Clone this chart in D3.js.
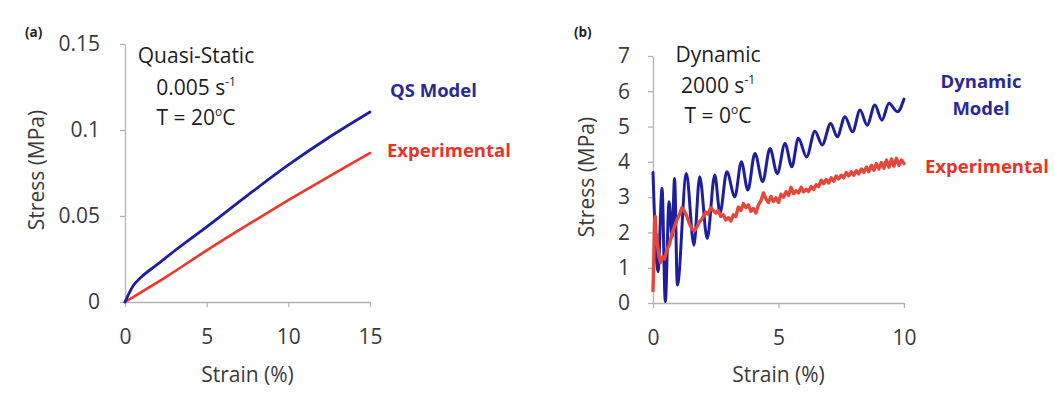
<!DOCTYPE html>
<html>
<head>
<meta charset="utf-8">
<script src="https://cdn.jsdelivr.net/npm/d3@7"></script>
<style>
  html, body { margin: 0; padding: 0; background: #ffffff; }
  svg { display: block; font-family: "Open Sans", "Noto Sans", sans-serif; }
  .axis path, .axis line { stroke: #b4b4b4; stroke-width: 1.3; }
  .axis text { fill: #3a3a3a; font-size: 21px; font-family: "Open Sans", sans-serif; }
</style>
</head>
<body>
<svg id="fig" width="1055" height="404"></svg>
<script>
// ---- Panel (a): quasi-static, 0.005 1/s, 20 C ----
const qsModelStrain = [0, 0.5, 1, 2, 3, 5, 7.5, 10, 12.5, 15];
const qsModelStress = [0, 0.0095, 0.0145, 0.022, 0.0295, 0.0437, 0.062, 0.0797, 0.0958, 0.1105];
const qsExpStrain   = [0, 1, 2.5, 5, 7.5, 10, 12.5, 15];
const qsExpStress   = [0, 0.0058, 0.0145, 0.030, 0.0448, 0.0592, 0.0731, 0.0866];
const qsXTicks = [0, 5, 10, 15];
const qsYTicks = [0, 0.05, 0.1, 0.15];
const qsYTickLabels = ["0", "0.05", "0.1", "0.15"];

// ---- Panel (b): dynamic, 2000 1/s, 0 C ----
const dynModelStrain = [0, 0.2, 0.36, 0.49, 0.64, 0.76, 0.86, 0.97, 1.33, 1.63, 1.86, 2.16, 2.46, 2.67,
  2.94, 3.26, 3.52, 3.78, 4.06, 4.37, 4.66, 4.95, 5.26, 5.53, 5.79, 6.12, 6.45, 6.74, 7.08, 7.34,
  7.65, 7.95, 8.25, 8.53, 8.84, 9.12, 9.40, 9.74, 10.0];
const dynModelStress = [3.70, 0.89, 3.25, 0.04, 2.87, 1.88, 3.53, 0.51, 3.67, 1.64, 3.58, 1.83, 3.63, 2.55,
  3.72, 3.01, 4.00, 3.20, 4.24, 3.44, 4.38, 3.67, 4.52, 3.86, 4.67, 4.14, 4.87, 4.48, 5.09, 4.71,
  5.28, 4.85, 5.47, 5.04, 5.61, 5.18, 5.66, 5.42, 5.78];
const dynExpStrain = [0, 0.03, 0.06, 0.09, 0.12, 0.17, 0.23, 0.30, 0.38, 0.46, 0.55, 0.65, 0.75, 0.85,
  0.95, 1.05, 1.15, 1.25, 1.35, 1.45, 1.55, 1.65, 1.75, 1.85, 1.95,
  2.0, 2.1, 2.2, 2.3, 2.4, 2.5, 2.6, 2.7, 2.8, 2.9, 3.0, 3.1, 3.2, 3.3, 3.4, 3.5, 3.6, 3.7, 3.8, 3.9,
  4.0, 4.1, 4.2, 4.3, 4.4, 4.5, 4.6, 4.7, 4.8, 4.9, 5.0, 5.1, 5.2, 5.3, 5.4, 5.5, 5.6, 5.7, 5.8, 5.9,
  6.0, 6.1, 6.2, 6.3, 6.4, 6.5, 6.6, 6.7, 6.8, 6.9, 7.0, 7.1, 7.2, 7.3, 7.4, 7.5, 7.6, 7.7, 7.8, 7.9,
  8.0, 8.1, 8.2, 8.3, 8.4, 8.5, 8.6, 8.7, 8.8, 8.9, 9.0, 9.1, 9.2, 9.3, 9.4, 9.5, 9.6, 9.7, 9.8, 9.9, 10.0];
const dynExpStress = [0.35, 1.2, 2.3, 2.45, 2.0, 1.7, 1.35, 1.15, 1.3, 1.25, 1.5, 1.65, 1.95, 2.15,
  2.35, 2.5, 2.7, 2.6, 2.45, 2.25, 2.1, 2.05, 2.15, 2.3, 2.38,
  2.45, 2.58, 2.52, 2.7, 2.62, 2.55, 2.62, 2.45, 2.5, 2.35, 2.42, 2.32, 2.5, 2.45, 2.72, 2.62, 2.82, 2.7, 2.78, 2.6,
  2.68, 2.55, 2.78, 2.9, 3.12, 2.95, 2.85, 3.02, 2.88, 2.98, 2.85, 3.08, 3.0, 3.15, 3.05, 3.28, 3.1, 3.18, 3.12, 3.28,
  3.15, 3.22, 3.16, 3.3, 3.22, 3.35, 3.3, 3.48, 3.38, 3.5, 3.4, 3.55, 3.45, 3.6, 3.52, 3.62, 3.55, 3.7, 3.6, 3.72,
  3.62, 3.75, 3.66, 3.8, 3.7, 3.85, 3.72, 3.9, 3.76, 3.95, 3.8, 3.98, 3.82, 4.05, 3.85, 4.08, 3.88, 4.1, 3.9, 4.05, 3.95];
const dynXTicks = [0, 5, 10];
const dynYTicks = [0, 1, 2, 3, 4, 5, 6, 7];

const BLUE = "#1e1e9e";
const RED = "#f0352b";
const RED_DYN = "#e6473b";
const BLUE_TEXT = "#2a2a96";
const RED_TEXT = "#e8332a";

const svg = d3.select("#fig");

const defs = svg.append("defs");
defs.append("filter").attr("id", "soft")
  .attr("x", "-5%").attr("y", "-5%").attr("width", "110%").attr("height", "110%")
  .append("feGaussianBlur").attr("stdDeviation", 0.7);

const zip = (xs, ys) => xs.map((x, i) => [x, ys[i]]);

function drawPanel(cfg) {
  const g = svg.append("g");
  const x = d3.scaleLinear().domain(cfg.xDomain).range(cfg.xRange);
  const y = d3.scaleLinear().domain(cfg.yDomain).range(cfg.yRange);

  const xAxis = d3.axisBottom(x).tickValues(cfg.xTicks).tickSizeInner(5).tickSizeOuter(0).tickPadding(22)
    .tickFormat(d3.format("d"));
  const yAxis = d3.axisLeft(y).tickValues(cfg.yTicks).tickSizeInner(5).tickSizeOuter(0).tickPadding(cfg.yPad)
    .tickFormat((d, i) => cfg.yLabels[i]);

  g.append("g").attr("class", "axis")
    .attr("transform", `translate(0,${cfg.yRange[0]})`).call(xAxis);
  g.append("g").attr("class", "axis")
    .attr("transform", `translate(${cfg.xRange[0]},0)`).call(yAxis);

  // axis titles
  g.append("text").attr("x", (cfg.xRange[0] + cfg.xRange[1]) / 2 + cfg.xTitleDx).attr("y", 382)
    .attr("text-anchor", "middle").attr("fill", "#3a3a3a").style("font-size", "21px")
    .text("Strain (%)");
  g.append("text")
    .attr("transform", `translate(${cfg.yTitleX},${cfg.yTitleY}) rotate(-90)`)
    .attr("text-anchor", "middle").attr("dy", "0.35em").attr("fill", "#3a3a3a").style("font-size", "21px")
    .text("Stress (MPa)");

  // series
  cfg.series.forEach(s => {
    const line = d3.line().x(d => x(d[0])).y(d => y(d[1])).curve(s.curve);
    const p = g.append("path").datum(zip(s.xs, s.ys))
      .attr("d", line).attr("fill", "none")
      .attr("stroke", s.color).attr("stroke-width", s.width)
      .attr("stroke-linejoin", "round").attr("stroke-linecap", "round");
    if (s.filter) p.attr("filter", s.filter);
  });

  // panel letter
  g.append("text").attr("x", cfg.letterX).attr("y", 37).attr("font-weight", "bold")
    .attr("fill", "#222").style("font-size", "13.5px").text(cfg.letter);

  // condition annotation
  const ann = g.append("text").attr("text-anchor", "middle").attr("fill", "#1e1e1e").style("font-size", "21px");
  ann.append("tspan").attr("x", cfg.annX).attr("y", cfg.annY[0]).text(cfg.annLines[0]);
  const rate = g.append("text").attr("text-anchor", "middle").attr("fill", "#1e1e1e").style("font-size", "21px")
    .attr("x", cfg.annX).attr("y", cfg.annY[1]);
  rate.append("tspan").text(cfg.annLines[1] + " s");
  rate.append("tspan").attr("dy", -9).style("font-size", "12px").text("-1");
  const temp = g.append("text").attr("text-anchor", "middle").attr("fill", "#1e1e1e").style("font-size", "21px")
    .attr("x", cfg.annX).attr("y", cfg.annY[2]);
  temp.append("tspan").text(cfg.annLines[2]);
  temp.append("tspan").attr("dy", -9).style("font-size", "12px").text("o");
  temp.append("tspan").attr("dy", 9).text("C");

  // series labels
  cfg.labels.forEach(l => {
    g.append("text").attr("x", l.x).attr("y", l.y).attr("text-anchor", l.anchor || "start")
      .attr("font-weight", "bold").attr("fill", l.color).style("font-size", "18.5px").text(l.text);
  });
}

drawPanel({
  xDomain: [0, 15], xRange: [125, 370],
  yDomain: [0, 0.15], yRange: [302, 44],
  xTicks: qsXTicks, yTicks: qsYTicks, yLabels: qsYTickLabels, yPad: 20,
  xTitleDx: 0, yTitleX: 37, yTitleY: 170,
  letter: "(a)", letterX: 25,
  annX: 196, annY: [63, 95, 125], annLines: ["Quasi-Static", "0.005", "T = 20"],
  series: [
    { xs: qsExpStrain, ys: qsExpStress, color: RED, width: 2.6, curve: d3.curveMonotoneX },
    { xs: qsModelStrain, ys: qsModelStress, color: BLUE, width: 2.8, curve: d3.curveMonotoneX }
  ],
  labels: [
    { text: "QS Model", x: 390, y: 97, color: BLUE_TEXT },
    { text: "Experimental", x: 387, y: 157, color: RED_TEXT }
  ]
});

drawPanel({
  xDomain: [0, 10], xRange: [653, 904],
  yDomain: [0, 7], yRange: [303, 56],
  xTicks: dynXTicks, yTicks: dynYTicks, yLabels: dynYTicks.map(String), yPad: 18,
  xTitleDx: 0, yTitleX: 587, yTitleY: 177,
  letter: "(b)", letterX: 574,
  annX: 718, annY: [62, 93, 123], annLines: ["Dynamic", "2000", "T = 0"],
  series: [
    { xs: dynModelStrain, ys: dynModelStress, color: BLUE, width: 3, curve: d3.curveMonotoneX },
    { xs: dynExpStrain, ys: dynExpStress, color: RED_DYN, width: 3.4, curve: d3.curveLinear, filter: "url(#soft)" }
  ],
  labels: [
    { text: "Dynamic", x: 981, y: 88, color: BLUE_TEXT, anchor: "middle" },
    { text: "Model", x: 981, y: 115, color: BLUE_TEXT, anchor: "middle" },
    { text: "Experimental", x: 925, y: 173, color: RED_TEXT }
  ]
});
</script>
</body>
</html>
